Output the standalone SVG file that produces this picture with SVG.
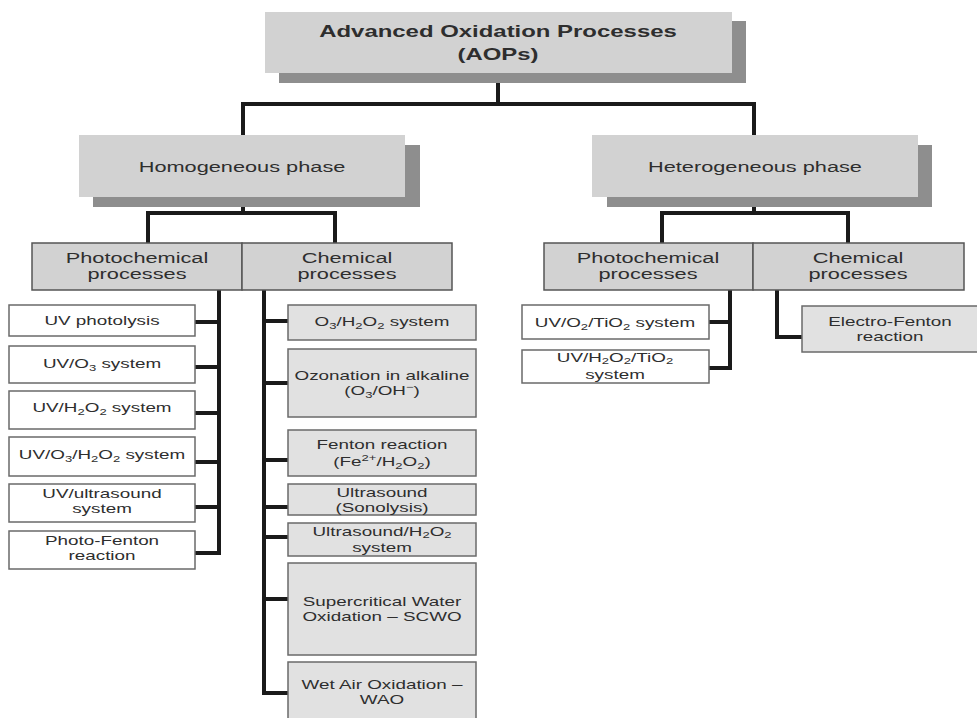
<svg xmlns="http://www.w3.org/2000/svg" width="977" height="718" viewBox="0 0 977 718">
<style>
text{font-family:"Liberation Sans",Arial,sans-serif;fill:#2e2e2e;text-anchor:middle}
.t{font-size:16.5px;font-weight:bold}
.p{font-size:15px}
.s{font-size:13px}
.sub{font-size:9px}
.main{fill:#d2d2d2}
.shadow{fill:#8e8e8e}
.proc{fill:#d2d2d2;stroke:#555;stroke-width:1.5}
.wbox{fill:#fff;stroke:#6a6a6a;stroke-width:1.5}
.gbox{fill:#e1e1e1;stroke:#6a6a6a;stroke-width:1.5}
.c{fill:none;stroke:#1a1a1a;stroke-width:4;stroke-linejoin:miter}
</style>
<rect width="977" height="718" fill="#fff"/>
<g id="connectors">
<path class="c" d="M498 83V104"/>
<path class="c" d="M243 135V104H754V135"/>
<path class="c" d="M243 207V213"/>
<path class="c" d="M148 243V213H335V243"/>
<path class="c" d="M754 207V213"/>
<path class="c" d="M662 243V213H848V243"/>
<path class="c" d="M219 290V553H195"/>
<path class="c" d="M195 322H219M195 367H219M195 413H219M195 462H219M195 507H219"/>
<path class="c" d="M264 290V693H288"/>
<path class="c" d="M264 321H288M264 383H288M264 460H288M264 507H288M264 537H288M264 599H288"/>
<path class="c" d="M730 290V368H709"/>
<path class="c" d="M709 322H730"/>
<path class="c" d="M777 290V337H802"/>
</g>
<g id="aops">
<rect class="shadow" x="279" y="21" width="467" height="62"/>
<rect class="main" x="265" y="12" width="467" height="61"/>
<g transform="translate(498,0) scale(1.45,1)">
<text class="t" x="0" y="37">Advanced Oxidation Processes</text>
<text class="t" x="0" y="60">(AOPs)</text>
</g>
</g>
<g id="homogeneous">
<rect class="shadow" x="93" y="145" width="327" height="62"/>
<rect class="main" x="79" y="135" width="326" height="62"/>
<text class="p" transform="translate(242,0) scale(1.45,1)" x="0" y="172">Homogeneous phase</text>
</g>
<g id="heterogeneous">
<rect class="shadow" x="607" y="145" width="325" height="62"/>
<rect class="main" x="592" y="135" width="326" height="62"/>
<text class="p" transform="translate(755,0) scale(1.45,1)" x="0" y="172">Heterogeneous phase</text>
</g>
<g id="homo-photo">
<rect class="proc" x="32" y="243" width="210" height="47"/>
<g transform="translate(137,0) scale(1.45,1)"><text class="p" x="0" y="263">Photochemical</text><text class="p" x="0" y="279">processes</text></g>
</g>
<g id="homo-chem">
<rect class="proc" x="242" y="243" width="210" height="47"/>
<g transform="translate(347,0) scale(1.45,1)"><text class="p" x="0" y="263">Chemical</text><text class="p" x="0" y="279">processes</text></g>
</g>
<g id="hetero-photo">
<rect class="proc" x="544" y="243" width="209" height="47"/>
<g transform="translate(648,0) scale(1.45,1)"><text class="p" x="0" y="263">Photochemical</text><text class="p" x="0" y="279">processes</text></g>
</g>
<g id="hetero-chem">
<rect class="proc" x="753" y="243" width="211" height="47"/>
<g transform="translate(858,0) scale(1.45,1)"><text class="p" x="0" y="263">Chemical</text><text class="p" x="0" y="279">processes</text></g>
</g>
<g id="uv-photolysis">
<rect class="wbox" x="9" y="305" width="186" height="31"/>
<text class="s" transform="translate(102,0) scale(1.45,1)" x="0" y="325">UV photolysis</text>
</g>
<g id="uv-o3">
<rect class="wbox" x="9" y="346" width="186" height="37"/>
<text class="s" transform="translate(102,0) scale(1.45,1)" x="0" y="368">UV/O<tspan class="sub" dy="3">3</tspan><tspan dy="-3"> system</tspan></text>
</g>
<g id="uv-h2o2">
<rect class="wbox" x="9" y="391" width="186" height="38"/>
<text class="s" transform="translate(102,0) scale(1.45,1)" x="0" y="412">UV/H<tspan class="sub" dy="3">2</tspan><tspan dy="-3">O</tspan><tspan class="sub" dy="3">2</tspan><tspan dy="-3"> system</tspan></text>
</g>
<g id="uv-o3-h2o2">
<rect class="wbox" x="9" y="437" width="186" height="39"/>
<text class="s" transform="translate(102,0) scale(1.45,1)" x="0" y="459">UV/O<tspan class="sub" dy="3">3</tspan><tspan dy="-3">/H</tspan><tspan class="sub" dy="3">2</tspan><tspan dy="-3">O</tspan><tspan class="sub" dy="3">2</tspan><tspan dy="-3"> system</tspan></text>
</g>
<g id="uv-ultrasound">
<rect class="wbox" x="9" y="484" width="186" height="38"/>
<g transform="translate(102,0) scale(1.45,1)"><text class="s" x="0" y="498">UV/ultrasound</text><text class="s" x="0" y="513">system</text></g>
</g>
<g id="photo-fenton">
<rect class="wbox" x="9" y="531" width="186" height="38"/>
<g transform="translate(102,0) scale(1.45,1)"><text class="s" x="0" y="545">Photo-Fenton</text><text class="s" x="0" y="560">reaction</text></g>
</g>
<g id="o3-h2o2">
<rect class="gbox" x="288" y="305" width="188" height="35"/>
<text class="s" transform="translate(382,0) scale(1.45,1)" x="0" y="326">O<tspan class="sub" dy="3">3</tspan><tspan dy="-3">/H</tspan><tspan class="sub" dy="3">2</tspan><tspan dy="-3">O</tspan><tspan class="sub" dy="3">2</tspan><tspan dy="-3"> system</tspan></text>
</g>
<g id="ozonation">
<rect class="gbox" x="288" y="349" width="188" height="68"/>
<g transform="translate(382,0) scale(1.45,1)"><text class="s" x="0" y="380">Ozonation in alkaline</text><text class="s" x="0" y="395">(O<tspan class="sub" dy="3">3</tspan><tspan dy="-3">/OH</tspan><tspan class="sub" dy="-5">−</tspan><tspan dy="5">)</tspan></text></g>
</g>
<g id="fenton">
<rect class="gbox" x="288" y="430" width="188" height="46"/>
<g transform="translate(382,0) scale(1.45,1)"><text class="s" x="0" y="449">Fenton reaction</text><text class="s" x="0" y="466">(Fe<tspan class="sub" dy="-5">2+</tspan><tspan dy="5">/H</tspan><tspan class="sub" dy="3">2</tspan><tspan dy="-3">O</tspan><tspan class="sub" dy="3">2</tspan><tspan dy="-3">)</tspan></text></g>
</g>
<g id="ultrasound">
<rect class="gbox" x="288" y="484" width="188" height="31"/>
<g transform="translate(382,0) scale(1.45,1)"><text class="s" x="0" y="497">Ultrasound</text><text class="s" x="0" y="512">(Sonolysis)</text></g>
</g>
<g id="ultrasound-h2o2">
<rect class="gbox" x="288" y="523" width="188" height="33"/>
<g transform="translate(382,0) scale(1.45,1)"><text class="s" x="0" y="536">Ultrasound/H<tspan class="sub" dy="2">2</tspan><tspan dy="-2">O</tspan><tspan class="sub" dy="2">2</tspan></text><text class="s" x="0" y="552">system</text></g>
</g>
<g id="scwo">
<rect class="gbox" x="288" y="563" width="188" height="92"/>
<g transform="translate(382,0) scale(1.45,1)"><text class="s" x="0" y="606">Supercritical Water</text><text class="s" x="0" y="621">Oxidation – SCWO</text></g>
</g>
<g id="wao">
<rect class="gbox" x="288" y="662" width="188" height="64"/>
<g transform="translate(382,0) scale(1.45,1)"><text class="s" x="0" y="689">Wet Air Oxidation –</text><text class="s" x="0" y="704">WAO</text></g>
</g>
<g id="uv-o2-tio2">
<rect class="wbox" x="522" y="305" width="187" height="34"/>
<text class="s" transform="translate(615,0) scale(1.45,1)" x="0" y="327">UV/O<tspan class="sub" dy="3">2</tspan><tspan dy="-3">/TiO</tspan><tspan class="sub" dy="3">2</tspan><tspan dy="-3"> system</tspan></text>
</g>
<g id="uv-h2o2-tio2">
<rect class="wbox" x="522" y="350" width="187" height="33"/>
<g transform="translate(615,0) scale(1.45,1)"><text class="s" x="0" y="362">UV/H<tspan class="sub" dy="2">2</tspan><tspan dy="-2">O</tspan><tspan class="sub" dy="2">2</tspan><tspan dy="-2">/TiO</tspan><tspan class="sub" dy="2">2</tspan></text><text class="s" x="0" y="379">system</text></g>
</g>
<g id="electro-fenton">
<rect class="gbox" x="802" y="306" width="185" height="46"/>
<g transform="translate(890,0) scale(1.45,1)"><text class="s" x="0" y="326">Electro-Fenton</text><text class="s" x="0" y="341">reaction</text></g>
</g>
</svg>
